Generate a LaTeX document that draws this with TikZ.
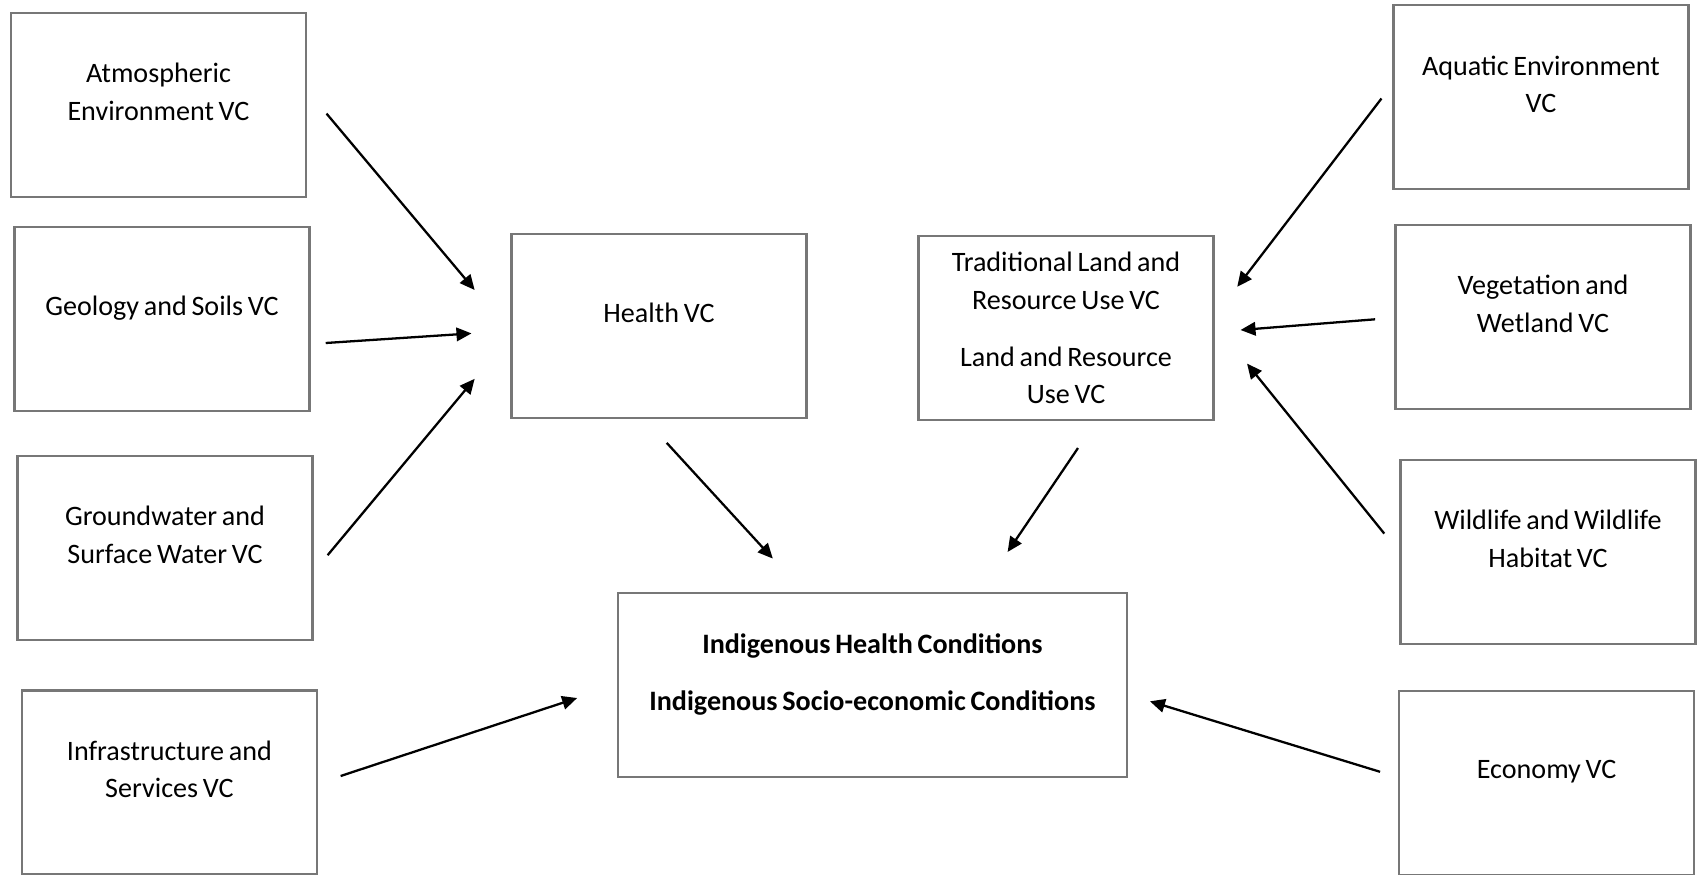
\documentclass[tikz,border=0pt]{standalone}
\usepackage{fontspec}
\setmainfont[WordSpace=0.75]{Carlito}
\usepackage{tikz}
\usetikzlibrary{arrows.meta,positioning}
\definecolor{boxgray}{HTML}{777777}
\newcommand{\vcfont}{\fontsize{16}{21.5}\selectfont}

\begin{document}
\begin{tikzpicture}[
  x=0.02cm, y=-0.02cm,
  font=\vcfont,
  vcbox/.style={draw=boxgray, line width=1.2pt, align=center, inner sep=4pt, minimum width=5.9cm, minimum height=3.68cm},
  vc/.style={vcbox, execute at end node={\rule[-15pt]{0pt}{0pt}}},
  link/.style={line width=1.3pt, -{Triangle[length=0.3cm, width=0.27cm]}}
]
\useasboundingbox (0,0) rectangle (1697,875);
\node[vc] (atmos) at (158.5,105) {Atmospheric\\Environment VC};
\node[vc] (geology) at (162,319) {Geology and Soils VC};
\node[vc] (ground) at (165,547.6) {Groundwater and\\Surface Water VC};
\node[vc] (infra) at (169.4,782.5) {Infrastructure and\\Services VC};
\node[vc] (health) at (659,326) {Health VC};
\node[vcbox] (trad) at (1066,328) {Traditional Land and\\Resource Use VC\\[11pt]Land and Resource\\Use VC};
\node[vc, minimum width=10.17cm, font=\vcfont\bfseries] (indig) at (872.4,685) {Indigenous Health Conditions\\[11pt]Indigenous Socio-economic Conditions};
\node[vc] (aquatic) at (1541,97.4) {Aquatic Environment\\VC};
\node[vc] (veget) at (1543,317) {Vegetation and\\Wetland VC};
\node[vc] (wildlife) at (1548,552) {Wildlife and Wildlife\\Habitat VC};
\node[vc] (economy) at (1546.6,783) {Economy VC};
\draw[link] ([shift={(19.5,8.6)}]atmos.east) -- ([shift={(-35.8,-36)}]health.west);
\draw[link] ([shift={(15.2,24)}]geology.east) -- ([shift={(-39,7.4)}]health.west);
\draw[link] ([shift={(14.1,7.6)}]ground.east) -- ([shift={(-35.8,52.8)}]health.west);
\draw[link] ([shift={(22.7,-6.5)}]infra.east) -- ([shift={(-40,13)}]indig.west);
\draw[link] ([shift={(7.7,23.8)}]health.south) -- ([shift={(-99.6,-33.4)}]indig.north);
\draw[link] ([shift={(12,27)}]trad.south) -- ([shift={(135.2,-40)}]indig.north);
\draw[link] ([shift={(-11,1.1)}]aquatic.west) -- ([shift={(22.7,-41.2)}]trad.east);
\draw[link] ([shift={(-19.4,2.3)}]veget.west) -- ([shift={(26,2)}]trad.east);
\draw[link] ([shift={(-15.2,-18.4)}]wildlife.west) -- ([shift={(32.5,35.6)}]trad.east);
\draw[link] ([shift={(-18,-11.2)}]economy.west) -- ([shift={(22.3,16.3)}]indig.east);
\end{tikzpicture}
\end{document}
